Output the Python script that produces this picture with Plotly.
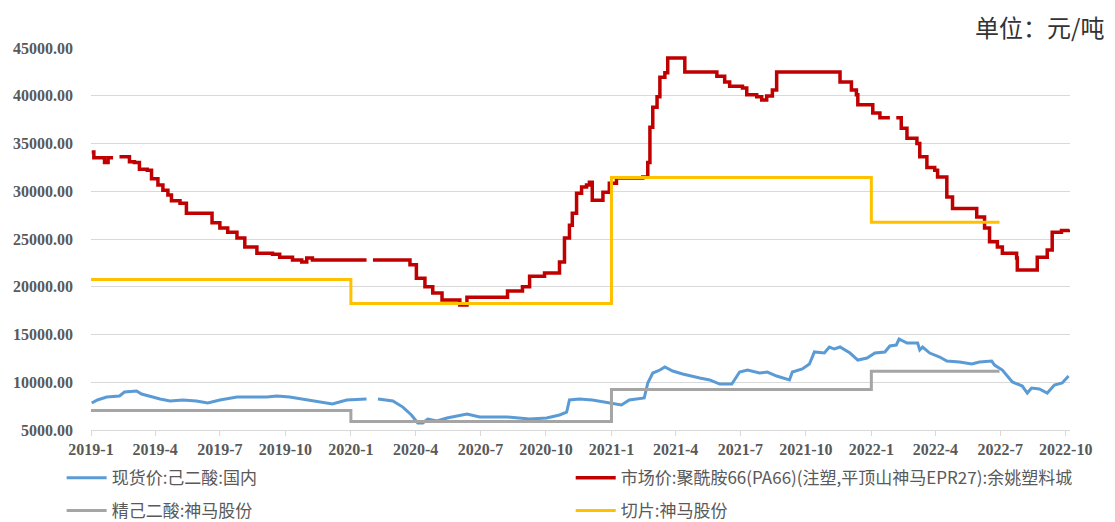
import plotly.graph_objects as go

# ---------------- data ----------------
pa66_dates = [
    "2019-01-02", "2019-01-05", "2019-01-20", "2019-01-25", "2019-02-01", "2019-02-05",
    "2019-02-10", "2019-02-24", "2019-03-03", "2019-03-10", "2019-03-21", "2019-03-27",
    "2019-04-05", "2019-04-12", "2019-04-19", "2019-04-24", "2019-05-06", "2019-05-15",
    "2019-06-14", "2019-06-20", "2019-07-01", "2019-07-12", "2019-07-25", "2019-08-05",
    "2019-08-22", "2019-09-13", "2019-09-23", "2019-10-11", "2019-10-24", "2019-10-31",
    "2019-11-08", "2020-01-23", "2020-01-27",
    "2020-02-01", "2020-03-17", "2020-03-24", "2020-04-02", "2020-04-14", "2020-04-25",
    "2020-05-08", "2020-06-02", "2020-06-12", "2020-08-04", "2020-08-08", "2020-08-25",
    "2020-08-29", "2020-09-08", "2020-09-25", "2020-09-29", "2020-10-10", "2020-10-20",
    "2020-10-27", "2020-11-03", "2020-11-07", "2020-11-13", "2020-11-20", "2020-11-27",
    "2020-12-01", "2020-12-05", "2020-12-18", "2020-12-20", "2020-12-29", "2021-01-08",
    "2021-02-14", "2021-02-21", "2021-02-24", "2021-02-28", "2021-03-06", "2021-03-10",
    "2021-03-17", "2021-03-21", "2021-04-11", "2021-04-14", "2021-05-24", "2021-05-29",
    "2021-06-09", "2021-06-16", "2021-07-04", "2021-07-10", "2021-07-24", "2021-07-31",
    "2021-08-07", "2021-08-15", "2021-08-21", "2021-11-08", "2021-11-18", "2021-11-29",
    "2021-12-04", "2021-12-11", "2021-12-13", "2021-12-30", "2022-01-03", "2022-01-13",
    "2022-01-27", "2022-01-31",
    "2022-02-05", "2022-02-12", "2022-02-20", "2022-03-06", "2022-03-10", "2022-03-20",
    "2022-03-31", "2022-04-04", "2022-04-17", "2022-04-25", "2022-05-16", "2022-05-29",
    "2022-06-09", "2022-06-16", "2022-06-27", "2022-07-04", "2022-07-24", "2022-07-25",
    "2022-08-15", "2022-08-22", "2022-09-05", "2022-09-12", "2022-09-25", "2022-10-06",
]
pa66_values = [
    34100, 33500, 33000, 33500, 33500, None,
    33600, 33100, 33000, 32300, 32200, 31300,
    30650, 30100, 29600, 29000, 28750, 27700,
    27700, 26700, 26150, 25700, 25100, 24150,
    23500, 23400, 23100, 22800, 22600, 23000,
    22800, 22800, None,
    22800, 22800, 22300, 20900, 20000, 19350,
    18600, 18100, 18900, 18900, 19550, 19550,
    20000, 21100, 21100, 21450, 21450, 22600,
    25100, 26450, 27700, 29800, 30450, 30650,
    30950, 29050, 29050, 29900, 30850, 31400,
    31500, 33000, 36700, 38800, 39900, 41950,
    42400, 43950, 43950, 42500, 42500, 42050,
    41450, 41000, 40800, 40100, 39900, 39550,
    39970, 40600, 42500, 42500, 41450, 41450,
    40600, 40100, 39050, 39050, 38200, 37700,
    37700, None,
    37700, 36600, 35550, 35000, 33600, 32500,
    32200, 31500, 29400, 28200, 28200, 27300,
    26150, 24700, 24150, 23500, 23000, 21750,
    21750, 23100, 23850, 25700, 25900, 26000,
]

adipic_dates = [
    "2019-01-02", "2019-01-10", "2019-01-23", "2019-02-10", "2019-02-17", "2019-03-06",
    "2019-03-13", "2019-03-28", "2019-04-08", "2019-04-22", "2019-05-10", "2019-05-29",
    "2019-06-14", "2019-07-01", "2019-07-25", "2019-09-05", "2019-09-19", "2019-10-07",
    "2019-10-31", "2019-11-18", "2019-12-06", "2019-12-26", "2020-01-23", "2020-01-28",
    "2020-02-08", "2020-02-29", "2020-03-14", "2020-03-26", "2020-04-04", "2020-04-11",
    "2020-04-18", "2020-05-01", "2020-05-15", "2020-06-12", "2020-06-30", "2020-08-07",
    "2020-09-08", "2020-10-02", "2020-10-20", "2020-10-30", "2020-11-03", "2020-11-17",
    "2020-12-05", "2020-12-29", "2021-01-15", "2021-01-26", "2021-02-16", "2021-02-21",
    "2021-02-28", "2021-03-10", "2021-03-17", "2021-03-28", "2021-04-11", "2021-05-05",
    "2021-05-19", "2021-06-02", "2021-06-19", "2021-06-30", "2021-07-11", "2021-07-28",
    "2021-08-08", "2021-08-21", "2021-09-08", "2021-09-12", "2021-09-26", "2021-10-06",
    "2021-10-13", "2021-10-27", "2021-11-03", "2021-11-10", "2021-11-18", "2021-12-02",
    "2021-12-13", "2021-12-26", "2022-01-06", "2022-01-20", "2022-01-27", "2022-02-05",
    "2022-02-09", "2022-02-20", "2022-03-07", "2022-03-10", "2022-03-14", "2022-03-24",
    "2022-04-07", "2022-04-17", "2022-05-05", "2022-05-22", "2022-06-02", "2022-06-19",
    "2022-06-23", "2022-07-04", "2022-07-18", "2022-08-01", "2022-08-08", "2022-08-14",
    "2022-08-25", "2022-09-05", "2022-09-15", "2022-09-26", "2022-10-05",
]
adipic_values = [
    7830, 8140, 8450, 8560, 8980, 9080,
    8770, 8450, 8240, 8040, 8140, 8040,
    7830, 8140, 8450, 8450, 8560, 8450,
    8140, 7930, 7720, 8140, 8240, None,
    8240, 8040, 7400, 6570, 5730, 5730,
    6150, 5940, 6260, 6680, 6360, 6360,
    6150, 6260, 6570, 6880, 8140, 8240,
    8140, 7830, 7620, 8140, 8350, 9920,
    10970, 11280, 11600, 11180, 10860, 10440,
    10240, 9810, 9810, 11070, 11280, 10970,
    11070, 10650, 10240, 11070, 11390, 11910,
    13170, 13060, 13690, 13480, 13690, 13060,
    12330, 12540, 13060, 13170, 13800, 13900,
    14530, 14110, 14110, 13380, 13690, 13060,
    12640, 12220, 12120, 11910, 12120, 12220,
    11800, 11280, 10030, 9600, 8870, 9400,
    9290, 8870, 9710, 9920, 10650,
]

refined_dates = ["2019-01-01", "2020-01-01", "2021-01-01", "2022-01-01", "2022-06-30"]
refined_values = [7050, 5900, 9250, 11150, 11150]

chip_dates = ["2019-01-01", "2020-01-01", "2021-01-01", "2022-01-01", "2022-06-30"]
chip_values = [20750, 18250, 31450, 26750, 26750]

tick_dates = ["2019-01-01", "2019-04-01", "2019-07-01", "2019-10-01",
              "2020-01-01", "2020-04-01", "2020-07-01", "2020-10-01",
              "2021-01-01", "2021-04-01", "2021-07-01", "2021-10-01",
              "2022-01-01", "2022-04-01", "2022-07-01", "2022-10-01"]
tick_labels = ["2019-1", "2019-4", "2019-7", "2019-10",
               "2020-1", "2020-4", "2020-7", "2020-10",
               "2021-1", "2021-4", "2021-7", "2021-10",
               "2022-1", "2022-4", "2022-7", "2022-10"]

names = ["现货价:己二酸:国内",
         "市场价:聚酰胺66(PA66)(注塑,平顶山神马EPR27):余姚塑料城",
         "精己二酸:神马股份",
         "切片:神马股份"]

# ---------------- figure ----------------
fig = go.Figure()
fig.add_trace(go.Scatter(x=adipic_dates, y=adipic_values, name=names[0], mode="lines",
                         line=dict(color="#5B9BD5", width=3), connectgaps=False,
                         legend="legend"))
fig.add_trace(go.Scatter(x=pa66_dates, y=pa66_values, name=names[1], mode="lines",
                         line=dict(color="#C00000", width=3.5, shape="hv"), connectgaps=False,
                         legend="legend2"))
fig.add_trace(go.Scatter(x=refined_dates, y=refined_values, name=names[2], mode="lines",
                         line=dict(color="#A5A5A5", width=3, shape="hv"),
                         legend="legend3"))
fig.add_trace(go.Scatter(x=chip_dates, y=chip_values, name=names[3], mode="lines",
                         line=dict(color="#FFC000", width=3, shape="hv"),
                         legend="legend4"))

legend_font = dict(family="Noto Sans CJK SC", size=17, color="#595959")
axis_font = dict(family="Liberation Serif", size=16, color="#595959", weight="bold")


def leg(x, y):
    return dict(orientation="h", x=x, y=y, xanchor="left", yanchor="middle",
                font=legend_font, itemwidth=40, bgcolor="rgba(0,0,0,0)")


# the page body adds an 8px offset, so the figure is 8px smaller than the window
fig.update_layout(
    width=1107, height=514,
    margin=dict(l=83, r=45, t=40, b=92, autoexpand=False),
    paper_bgcolor="white", plot_bgcolor="white",
    showlegend=True,
    legend=leg(-0.03, -0.126),
    legend2=leg(0.490, -0.126),
    legend3=leg(-0.03, -0.212),
    legend4=leg(0.490, -0.212),
    xaxis=dict(type="date", range=["2019-01-01", "2022-10-07"], automargin=False,
               tickmode="array", tickvals=tick_dates, ticktext=tick_labels,
               showgrid=False, showline=True, linecolor="#D9D9D9", linewidth=1,
               ticks="outside", ticklen=5, tickcolor="#D9D9D9",
               tickfont=axis_font, zeroline=False),
    yaxis=dict(range=[5000, 45000], dtick=5000, tick0=5000, tickformat=".2f",
               automargin=False,
               showgrid=True, gridcolor="#D9D9D9", gridwidth=1,
               zeroline=False, showline=False, ticks="",
               ticklabelstandoff=17, tickfont=axis_font),
    annotations=[dict(text="单位：元/吨", xref="paper", yref="paper",
                      x=1.036, y=1.104, xanchor="right", yanchor="top", showarrow=False,
                      borderpad=0,
                      font=dict(family="Noto Sans CJK SC", size=24, color="#333333"))],
)

fig.write_html("out.html")
